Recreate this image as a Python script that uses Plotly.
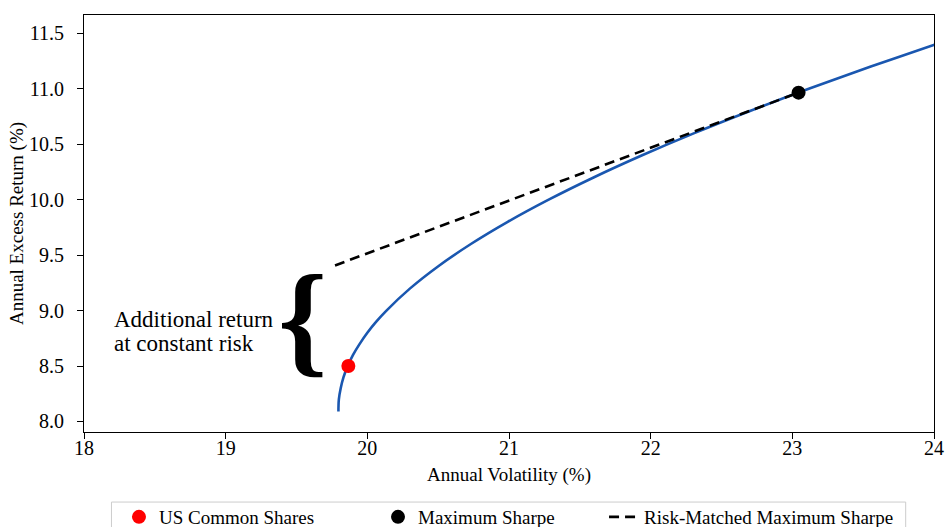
import plotly.graph_objects as go

# Efficient frontier
frontier_vol = [19.796, 19.799, 19.812, 19.832, 19.862, 19.899, 19.946, 20.000, 20.063, 20.135,
                20.302, 20.501, 20.731, 20.991, 21.280, 21.597, 21.940, 22.308, 22.701, 23.116,
                23.554, 24.011, 24.247]
frontier_ret = [8.09, 8.20, 8.30, 8.40, 8.50, 8.60, 8.70, 8.80, 8.90, 9.00,
                9.20, 9.40, 9.60, 9.80, 10.00, 10.20, 10.40, 10.60, 10.80, 11.00,
                11.20, 11.40, 11.50]

us_vol = [19.866]
us_ret = [8.50]

ms_vol = [23.044]
ms_ret = [10.965]

rm_vol = [19.772, 23.044]
rm_ret = [9.407, 10.965]

x_ticks = [18, 19, 20, 21, 22, 23, 24]
y_ticks = [8.0, 8.5, 9.0, 9.5, 10.0, 10.5, 11.0, 11.5]

FONT = "Liberation Serif, Times New Roman, serif"

fig = go.Figure()
fig.add_trace(go.Scatter(x=frontier_vol, y=frontier_ret, mode="lines",
                         line=dict(color="#1a57b0", width=2.6, shape="spline"),
                         showlegend=False, hoverinfo="skip"))
fig.add_trace(go.Scatter(x=rm_vol, y=rm_ret, mode="lines",
                         line=dict(color="black", width=2.6, dash="10px,6px"),
                         name="Risk-Matched Maximum Sharpe", legend="legend3"))
fig.add_trace(go.Scatter(x=us_vol, y=us_ret, mode="markers",
                         marker=dict(color="#ff0000", size=14),
                         name="US Common Shares", legend="legend"))
fig.add_trace(go.Scatter(x=ms_vol, y=ms_ret, mode="markers",
                         marker=dict(color="black", size=14),
                         name="Maximum Sharpe", legend="legend2"))

fig.add_annotation(x=19.54, y=8.92, xref="x", yref="y", text="<b>{</b>", showarrow=False,
                   xanchor="center", yanchor="middle",
                   font=dict(family=FONT, size=125, color="black"))
fig.add_annotation(x=18.20, y=8.917, xref="x", yref="y", text="Additional return",
                   showarrow=False, xanchor="left", yanchor="middle",
                   font=dict(family=FONT, size=23, color="black"))
fig.add_annotation(x=18.20, y=8.705, xref="x", yref="y", text="at constant risk",
                   showarrow=False, xanchor="left", yanchor="middle",
                   font=dict(family=FONT, size=23, color="black"))

# legend frame
fig.add_shape(type="rect", xref="paper", yref="paper", x0=0.0323, x1=0.9667,
              y0=-0.26, y1=-0.168, line=dict(color="#cccccc", width=1), fillcolor="white",
              layer="below")

leg_common = dict(orientation="h", yref="container", xref="container",
                  yanchor="middle", y=0.019, xanchor="left",
                  bgcolor="rgba(0,0,0,0)", borderwidth=0,
                  font=dict(family=FONT, size=19, color="black"))
fig.update_layout(
    width=945, height=527,
    margin=dict(l=83.5, r=10.7, t=15, b=95, autoexpand=False),
    plot_bgcolor="white", paper_bgcolor="white",
    font=dict(family=FONT, color="black"),
    legend=dict(x=0.1259, **leg_common),
    legend2=dict(x=0.4, **leg_common),
    legend3=dict(x=0.6392, **leg_common),
    xaxis=dict(range=[18, 24], tickvals=x_ticks, ticktext=[str(v) for v in x_ticks],
               showgrid=False, zeroline=False, showline=True, linecolor="black", linewidth=1.2,
               mirror=True, ticks="outside", ticklen=6, tickcolor="black", automargin=False,
               tickfont=dict(family=FONT, size=20), ticklabelstandoff=-8,
               ticklabeloverflow="allow",
               title=dict(text="Annual Volatility (%)", font=dict(family=FONT, size=19), standoff=9)),
    yaxis=dict(range=[7.905, 11.665], tickvals=y_ticks, ticktext=[f"{v:.1f}" for v in y_ticks],
               showgrid=False, zeroline=False, showline=True, linecolor="black", linewidth=1.2,
               mirror=True, ticks="outside", ticklen=6, tickcolor="black", automargin=False,
               tickfont=dict(family=FONT, size=20), ticklabelstandoff=9,
               ticklabeloverflow="allow",
               title=dict(text="Annual Excess Return (%)", font=dict(family=FONT, size=19), standoff=0)),
)

fig.write_html("out.html", config={"displayModeBar": False},
               post_script="document.body.style.margin='0px';document.body.style.overflow='hidden';")
